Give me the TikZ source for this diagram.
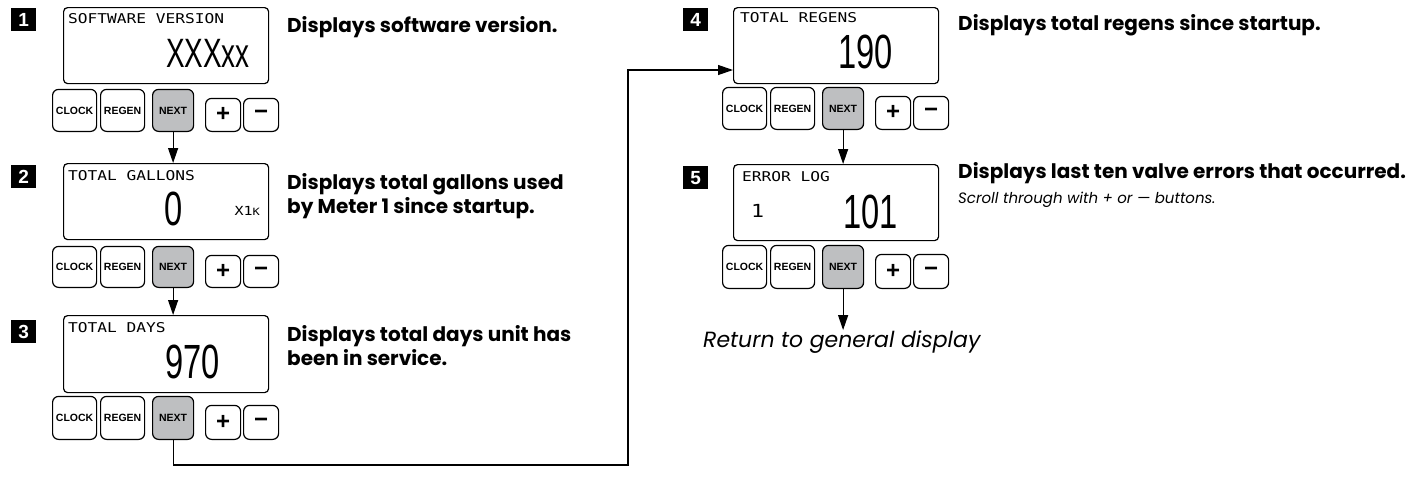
\documentclass[tikz,border=0pt]{standalone}
\usepackage{fontspec}
\setmainfont{Poppins}
\newfontfamily\lcdfont[FakeStretch=1.2]{DejaVu Sans Mono}
\newfontfamily\digitfont[FakeStretch=0.68]{Liberation Sans}
\newfontfamily\btnfont{Liberation Sans}
\usetikzlibrary{arrows.meta}
\definecolor{btngray}{HTML}{BEBFC1}
\newcommand\buttonrow[4]{% prefix, box left x, tall top y, bottom y
  \node[btn, minimum width=44pt, minimum height={#4-#3}, anchor=south west] (#1clock) at ({#2-11},#4) {CLOCK};
  \node[btn, minimum width=44pt, minimum height={#4-#3}, anchor=south west] (#1regen) at ({#2+37},#4) {REGEN};
  \node[btn, fill=btngray, minimum width=41pt, minimum height={#4-#3}, anchor=south west] (#1next) at ({#2+89},#4) {NEXT};
  \node[btn, pm, minimum width=35pt, minimum height={#4-#3-9}, anchor=south west] (#1plus) at ({#2+142},#4) {+};
  \node[btn, pm, minimum width=35pt, minimum height={#4-#3-9}, anchor=south west] (#1minus) at ({#2+180},#4) {−};
}
\begin{document}
\begin{tikzpicture}[x=1pt,y=-1pt,
  disp/.style={draw, line width=1.2pt, rounded corners=4pt, minimum width=205pt, anchor=north west, inner sep=0},
  btn/.style={draw, line width=1.2pt, rounded corners=6pt, inner sep=0, font=\btnfont\bfseries\fontsize{10.5}{11}\selectfont},
  pm/.style={font=\btnfont\bfseries\fontsize{24}{24}\selectfont},
  badge/.style={fill=black, text=white, font=\btnfont\bfseries\fontsize{19}{19}\selectfont, inner sep=0, minimum width=25pt, minimum height=23pt, anchor=north west},
  desc/.style={anchor=base west, inner sep=0, font=\bfseries\fontsize{20}{24}\selectfont},
  note/.style={anchor=base west, inner sep=0, font=\itshape\fontsize{15}{16}\selectfont},
  lcd/.style={anchor=base west, inner sep=0, font=\lcdfont\fontsize{13.5}{14}\selectfont},
  num/.style={anchor=base east, inner sep=0, font=\digitfont\fontsize{48}{48}\selectfont},
  arr/.style={line width=1.2pt, -{Triangle[length=15pt,width=10pt]}},
  ]
\useasboundingbox (0,0) rectangle (1421,477);

% ---------- Panel 1
\node[badge] (k1) at (11,8) {1};
\node[disp, minimum height=76pt] (b1) at (63,7) {};
\node[lcd] (l1) at (68,23) {SOFTWARE VERSION};
\node[num, font=\digitfont\fontsize{41}{41}\selectfont] (v1) at (250,67) {XXXxx};
\buttonrow{p1}{63}{90}{132}
\node[desc] (d1) at (287,32) {Displays software version.};

% ---------- Panel 2
\node[badge] (k2) at (11,165) {2};
\node[disp, minimum height=76pt] (b2) at (63,163) {};
\node[lcd] (l2) at (68,180) {TOTAL GALLONS};
\node[num] (v2) at (183,225) {0};
\node[anchor=base east, inner sep=0, font=\lcdfont\fontsize{12.5}{13}\selectfont] (u2) at (260,215) {X1{\fontsize{10}{10}\selectfont K}};
\buttonrow{p2}{63}{247}{288}
\node[desc] (d2a) at (287,189) {Displays total gallons used};
\node[desc] (d2b) at (287,213) {by Meter 1 since startup.};

% ---------- Panel 3
\node[badge] (k3) at (11,320) {3};
\node[disp, minimum height=77pt] (b3) at (63,315) {};
\node[lcd] (l3) at (68,332) {TOTAL DAYS};
\node[num] (v3) at (220,378) {970};
\buttonrow{p3}{63}{397}{440}
\node[desc] (d3a) at (287,341) {Displays total days unit has};
\node[desc] (d3b) at (287,365) {been in service.};

% ---------- Panel 4
\node[badge] (k4) at (683,8) {4};
\node[disp, minimum height=76pt] (b4) at (733,7) {};
\node[lcd] (l4) at (740,22) {TOTAL REGENS};
\node[num] (v4) at (893,68) {190};
\buttonrow{p4}{733}{88}{130}
\node[desc] (d4) at (958,30) {Displays total regens since startup.};

% ---------- Panel 5
\node[badge] (k5) at (683,166) {5};
\node[disp, minimum height=76pt] (b5) at (733,164) {};
\node[lcd] (l5) at (742,181) {ERROR LOG};
\node[anchor=base west, inner sep=0, font=\lcdfont\fontsize{18}{18}\selectfont] (s5) at (751,217) {1};
\node[num] (v5) at (898,228) {101};
\buttonrow{p5}{733}{246}{289}
\node[desc] (d5) at (958,178) {Displays last ten valve errors that occurred.};
\node[note] (n5) at (958,203) {Scroll through with + or — buttons.};

\node[anchor=base west, inner sep=0, font=\itshape\fontsize{22}{24}\selectfont] (ret) at (703,347) {Return to general display};

% ---------- Connectors
\draw[arr] (p1next.south) -- (p1next.south |- b2.north);
\draw[arr] (p2next.south) -- (p2next.south |- b3.north);
\draw[arr] (p4next.south) -- (p4next.south |- b5.north);
\draw[arr] (p5next.south) -- (p5next.south |- ret.north);
\coordinate (c1) at (173,465);
\coordinate (c2) at (628,465);
\coordinate (c3) at (628,70);
\draw[arr] (p3next.south) -- (p3next.south |- c1) -- (c2) -- (c3) -- (c3 -| b4.west);
\end{tikzpicture}
\end{document}
